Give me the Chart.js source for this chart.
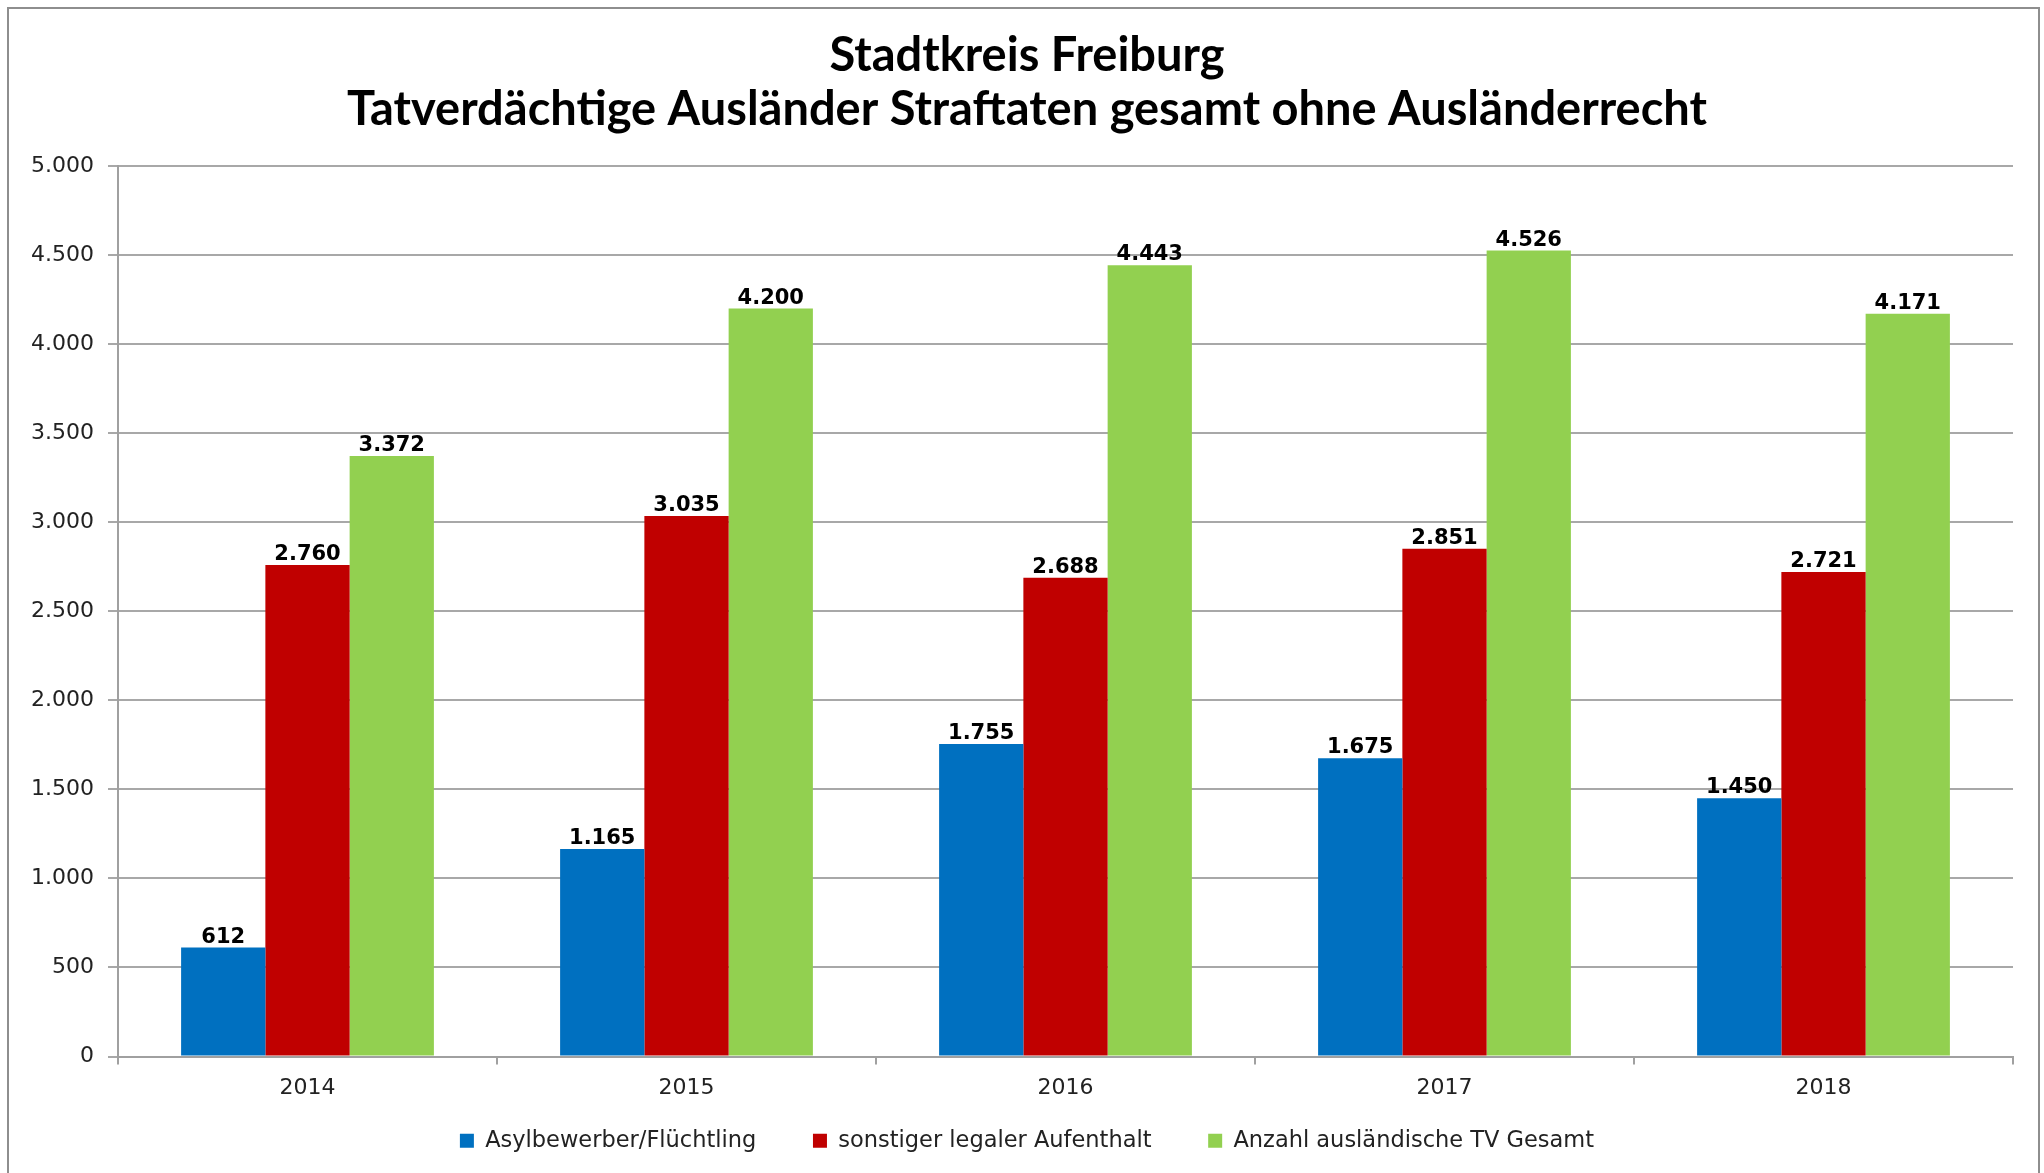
<!DOCTYPE html>
<html>
<head>
<meta charset="utf-8">
<script src="https://cdn.jsdelivr.net/npm/chart.js"></script>
<style>
  html, body { margin: 0; padding: 0; background: #fff; overflow: hidden; }
  #frame { position: absolute; left: 7px; top: 7px; width: 2029px; height: 1200px; border: 2px solid #8e8e8e; }
  #wrap { position: absolute; left: 0; top: 0; width: 2044px; height: 1173px; }
</style>
</head>
<body>
<div id="frame"></div>
<div id="wrap"><canvas id="chart" width="2044" height="1173"></canvas></div>
<script>
const years = ["2014", "2015", "2016", "2017", "2018"];
const asyl = [612, 1165, 1755, 1675, 1450];
const legal = [2760, 3035, 2688, 2851, 2721];
const gesamt = [3372, 4200, 4443, 4526, 4171];
const seriesNames = ["Asylbewerber/Flüchtling", "sonstiger legaler Aufenthalt", "Anzahl ausländische TV Gesamt"];
const titleLines = ["Stadtkreis Freiburg", "Tatverdächtige Ausländer Straftaten gesamt ohne Ausländerrecht"];

// german thousands separator
const fmt = v => String(v).replace(/\B(?=(\d{3})+(?!\d))/g, ".");

// value labels above the bars
const valueLabels = {
  id: "valueLabels",
  afterDatasetsDraw(chart) {
    const ctx = chart.ctx;
    ctx.save();
    ctx.font = "bold 21px 'DejaVu Sans'";
    ctx.fillStyle = "#000";
    ctx.textAlign = "center";
    ctx.textBaseline = "alphabetic";
    chart.data.datasets.forEach((ds, i) => {
      chart.getDatasetMeta(i).data.forEach((bar, j) => {
        ctx.fillText(fmt(ds.data[j]), bar.x, bar.y - 5);
      });
    });
    ctx.restore();
  }
};

// title + legend are centred a bit right of the canvas in the original
const shiftBoxes = {
  id: "shiftBoxes",
  afterLayout(chart) {
    chart.titleBlock.left = 41;
    chart.legend.left = 41;
  }
};

const tickFont = { family: "DejaVu Sans", size: 22 };

new Chart(document.getElementById("chart"), {
  type: "bar",
  data: {
    labels: years,
    datasets: [
      { label: seriesNames[0], data: asyl, backgroundColor: "#0070C0" },
      { label: seriesNames[1], data: legal, backgroundColor: "#C00000" },
      { label: seriesNames[2], data: gesamt, backgroundColor: "#92D050" }
    ]
  },
  options: {
    responsive: false,
    animation: false,
    layout: { padding: { left: 0, right: 31, top: 0, bottom: 11 } },
    datasets: { bar: { categoryPercentage: 0.667, barPercentage: 1.0, borderWidth: 0 } },
    plugins: {
      tooltip: { enabled: false },
      title: {
        display: true,
        text: titleLines,
        color: "#000",
        font: { family: "Lato", weight: "bold", size: 47, lineHeight: 1.15 },
        padding: { top: 29, bottom: 29 }
      },
      legend: {
        position: "bottom",
        labels: {
          color: "#222",
          font: { family: "DejaVu Sans", size: 22.5 },
          boxWidth: 14,
          boxHeight: 14,
          padding: 28,
          generateLabels(chart) {
            const items = Chart.defaults.plugins.legend.labels.generateLabels(chart);
            items.forEach((it, i) => { if (i < items.length - 1) it.text += "    "; });
            return items;
          }
        }
      }
    },
    scales: {
      x: {
        afterFit(scale) { scale.height = 45; },
        grid: { drawOnChartArea: false, tickLength: 8, color: "#a0a0a0", lineWidth: 2 },
        border: { color: "#a0a0a0", width: 2 },
        ticks: { padding: 11, color: "#222", font: tickFont }
      },
      y: {
        min: 0,
        max: 5000,
        afterFit(scale) { scale.width = 118; },
        grid: { color: "#a8a8a8", lineWidth: 2, tickLength: 10 },
        border: { color: "#a0a0a0", width: 2 },
        ticks: { stepSize: 500, padding: 14, color: "#222", font: tickFont, callback: v => fmt(v) }
      }
    }
  },
  plugins: [valueLabels, shiftBoxes]
});
</script>
</body>
</html>
